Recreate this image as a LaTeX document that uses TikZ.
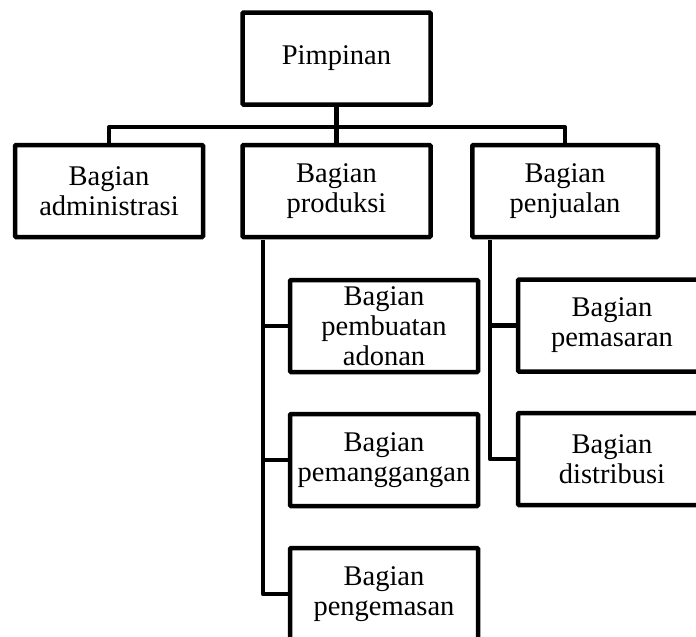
\documentclass[tikz,border=0pt]{standalone}
\usepackage{fontspec}
\setmainfont{Liberation Serif}
\begin{document}
\begin{tikzpicture}[x=1pt,y=-1pt,
  box/.style={draw,line width=4.5pt,rounded corners=1pt,align=center,inner sep=0pt,
    font=\fontsize{28.5}{30}\selectfont,minimum width=188pt,minimum height=92pt},
  link/.style={line width=4.5pt,line join=round}]
\useasboundingbox (0,0) rectangle (696,637);
\clip (0,0) rectangle (696,637);
\node[box] (pim) at (336.5,58.5) {Pimpinan};
\node[box] (adm) at (109,191) {Bagian\\administrasi};
\node[box] (prod) at (336.5,191) {Bagian\\produksi};
\node[box,minimum width=185.5pt] (jual) at (565,191) {Bagian\\penjualan};
\node[box] (pemb) at (384,326) {Bagian\\pembuatan\\adonan};
\node[box] (pang) at (384,460) {Bagian\\pemanggangan};
\node[box] (kemas) at (384,594) {Bagian\\pengemasan};
\node[box] (pasar) at (612,325.5) {Bagian\\pemasaran};
\node[box] (dist) at (612,459) {Bagian\\distribusi};
\coordinate (bus) at (336.5,127);
\coordinate (ps) at (263,240);
\coordinate (js) at (490,240);
\draw[link,line width=4pt] (adm.north) |- (bus) -| (jual.north);
\draw[link] (pim.south) -- (prod.north);
\draw[link] (ps) |- (kemas.west);
\draw[link] (pemb.west) -- (pemb.west -| ps);
\draw[link] (pang.west) -- (pang.west -| ps);
\draw[link] (js) |- (dist.west);
\draw[link] (pasar.west) -- (pasar.west -| js);
\end{tikzpicture}
\end{document}
